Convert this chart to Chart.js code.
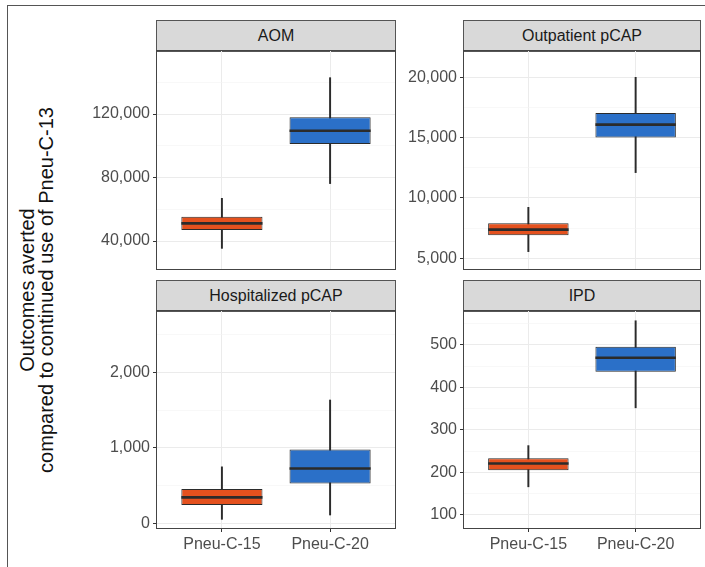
<!DOCTYPE html>
<html>
<head>
<meta charset="utf-8">
<script src="https://cdn.jsdelivr.net/npm/chart.js@4.4.1/dist/chart.umd.min.js"></script>
<style>
  html, body { margin: 0; padding: 0; background: #fff; }
  body { width: 705px; height: 567px; position: relative; overflow: hidden;
         font-family: "Liberation Sans", Arial, Helvetica, sans-serif; }
  .frame { position: absolute; left: 7px; top: 5px; width: 720px; height: 600px;
           border-left: 1.5px solid #555; border-top: 1.5px solid #555; }
  canvas { position: absolute; }
  .strip { position: absolute; box-sizing: border-box; background: #d9d9d9;
           border: 1px solid #555; color: #1a1a1a; font-size: 16px;
           display: flex; align-items: center; justify-content: center; }
  .ytitle { position: absolute; left: 37px; top: 290px; width: 0; height: 0; }
  .ytitle div { position: absolute; transform: translate(-50%, -50%) rotate(-90deg);
                white-space: nowrap; text-align: center; font-size: 20px;
                line-height: 19px; color: #111; }
</style>
</head>
<body>
<div class="frame"></div>
<div class="ytitle"><div>Outcomes averted<br>compared to continued use of Pneu-C-13</div></div>

<script>
// Vaccine programmes compared on the x axis
const categories = ['Pneu-C-15', 'Pneu-C-20'];

// Box summaries per programme: [lower whisker, Q1, median, Q3, upper whisker]
const aomBoxes        = [[35400, 46900, 51150, 55300, 66900], [76200, 101100, 109500, 117900, 142900]];
const outpatientBoxes = [[5550, 6900, 7370, 7900, 9220],      [12100, 15000, 16080, 17040, 20000]];
const hospitalBoxes   = [[53, 241, 343, 453, 748],            [110, 528, 727, 979, 1633]];
const ipdBoxes        = [[166, 205, 221, 233, 263],           [352, 437, 470, 496, 557]];

// Major tick labels on each panel's y axis
const aomTicks        = [40000, 80000, 120000];
const outpatientTicks = [5000, 10000, 15000, 20000];
const hospitalTicks   = [0, 1000, 2000];
const ipdTicks        = [100, 200, 300, 400, 500];

// y-axis limits of each panel
const aomLimits        = [22400, 159700];
const outpatientLimits = [4110, 22180];
const hospitalLimits   = [-62, 2812];
const ipdLimits        = [69, 580];

const fillColors = ['#e4511e', '#2b70c8'];
const inkColor = '#2b2b2b';

Chart.defaults.font.family = '"Liberation Sans", Arial, Helvetica, sans-serif';
Chart.defaults.font.size = 16;
Chart.defaults.color = '#4d4d4d';

// Panel placement on the page (plot-area rectangles)
const panels = [
  { title: 'AOM',               boxes: aomBoxes,        ticks: aomTicks,        limits: aomLimits,        x0: 157, y0: 51,  x1: 395, y1: 269, strip: 20,  xaxis: false },
  { title: 'Outpatient pCAP',   boxes: outpatientBoxes, ticks: outpatientTicks, limits: outpatientLimits, x0: 464, y0: 51,  x1: 700, y1: 269, strip: 20,  xaxis: false },
  { title: 'Hospitalized pCAP', boxes: hospitalBoxes,   ticks: hospitalTicks,   limits: hospitalLimits,   x0: 157, y0: 311, x1: 395, y1: 528, strip: 280, xaxis: true },
  { title: 'IPD',               boxes: ipdBoxes,        ticks: ipdTicks,        limits: ipdLimits,        x0: 464, y0: 311, x1: 700, y1: 528, strip: 280, xaxis: true }
];

const Y_AXIS_W = 80;
const X_AXIS_H = 32;
const PAD = 2;

// Minor grid positions halfway between major breaks
function minorBreaks(major, lo, hi) {
  const step = major[1] - major[0];
  const out = [];
  for (let v = major[0] - step / 2; v <= hi; v += step) {
    if (v >= lo && !major.includes(v)) out.push(v);
  }
  return out;
}

// Keep the plot area exactly where the layout puts it
function noLabelPadding(s) {
  s.paddingTop = 0; s.paddingBottom = 0; s.paddingLeft = 0; s.paddingRight = 0;
}

// Median bars and the panel frame
const boxExtras = {
  id: 'boxExtras',
  afterDatasetsDraw(chart, args, opts) {
    const ctx = chart.ctx;
    const yScale = chart.scales.y;
    const meta = chart.getDatasetMeta(0);
    ctx.save();
    ctx.strokeStyle = inkColor;
    ctx.lineWidth = 2.6;
    meta.data.forEach((bar, i) => {
      const y = yScale.getPixelForValue(opts.medians[i]);
      ctx.beginPath();
      ctx.moveTo(bar.x - bar.width / 2, y);
      ctx.lineTo(bar.x + bar.width / 2, y);
      ctx.stroke();
    });
    ctx.restore();
  },
  afterDraw(chart) {
    const { left, top, right, bottom } = chart.chartArea;
    const ctx = chart.ctx;
    ctx.save();
    ctx.strokeStyle = '#444';
    ctx.lineWidth = 1;
    ctx.strokeRect(left - 0.5, top - 0.5, right - left + 1, bottom - top + 1);
    ctx.restore();
  }
};

panels.forEach(p => {
  // facet strip
  const strip = document.createElement('div');
  strip.className = 'strip';
  strip.style.left = (p.x0 - 1) + 'px';
  strip.style.top = p.strip + 'px';
  strip.style.width = (p.x1 - p.x0 + 2) + 'px';
  strip.style.height = (p.y0 - p.strip + 1) + 'px';
  strip.textContent = p.title;
  document.body.appendChild(strip);

  const canvas = document.createElement('canvas');
  const w = (p.x1 - p.x0) + Y_AXIS_W + PAD;
  const h = (p.y1 - p.y0) + PAD + (p.xaxis ? X_AXIS_H : PAD);
  canvas.width = w; canvas.height = h;
  canvas.style.left = (p.x0 - Y_AXIS_W) + 'px';
  canvas.style.top = (p.y0 - PAD) + 'px';
  canvas.style.width = w + 'px'; canvas.style.height = h + 'px';
  document.body.appendChild(canvas);

  const minors = minorBreaks(p.ticks, p.limits[0], p.limits[1]);
  const isMajor = v => p.ticks.includes(v);

  new Chart(canvas, {
    type: 'bar',
    data: {
      datasets: [
        {
          label: 'box',
          data: p.boxes.map((b, i) => ({ x: i + 1, y: [b[1], b[3]] })),
          backgroundColor: fillColors,
          borderColor: inkColor,
          borderWidth: 1,
          borderSkipped: false,
          grouped: false,
          categoryPercentage: 1,
          barPercentage: 0.75,
          order: 0
        },
        {
          label: 'whisker',
          data: p.boxes.map((b, i) => ({ x: i + 1, y: [b[0], b[4]] })),
          backgroundColor: inkColor,
          borderWidth: 0,
          grouped: false,
          barThickness: 1.3,
          order: 1
        }
      ]
    },
    options: {
      responsive: false,
      animation: false,
      devicePixelRatio: 1,
      layout: {
        autoPadding: false,
        padding: { left: 0, top: PAD, right: PAD, bottom: p.xaxis ? 0 : PAD }
      },
      plugins: {
        legend: { display: false },
        tooltip: { enabled: false },
        boxExtras: { medians: p.boxes.map(b => b[2]) }
      },
      scales: {
        x: {
          type: 'linear',
          min: 0.4, max: 2.6,
          offset: false,
          bounds: 'data',
          afterBuildTicks: s => { s.ticks = categories.map((c, i) => ({ value: i + 1 })); },
          afterFit: s => { s.height = p.xaxis ? X_AXIS_H : 0; noLabelPadding(s); },
          ticks: {
            display: p.xaxis,
            autoSkip: false,
            maxRotation: 0,
            padding: 3,
            color: '#4d4d4d',
            callback: v => categories[Math.round(v) - 1]
          },
          grid: {
            offset: false,
            color: '#ebebeb',
            lineWidth: 1,
            drawTicks: p.xaxis,
            tickLength: 4,
            tickColor: '#333',
            tickWidth: 1
          },
          border: { display: false }
        },
        y: {
          type: 'linear',
          min: p.limits[0], max: p.limits[1],
          bounds: 'data',
          beginAtZero: false,
          afterBuildTicks: s => {
            s.ticks = p.ticks.concat(minors).sort((a, b) => a - b).map(v => ({ value: v }));
          },
          afterFit: s => { s.width = Y_AXIS_W; noLabelPadding(s); },
          ticks: {
            autoSkip: false,
            padding: 3,
            color: '#4d4d4d',
            callback: v => isMajor(v) ? v.toLocaleString('en-US') : ''
          },
          grid: {
            color: c => (c.tick && isMajor(c.tick.value)) ? '#ebebeb' : '#f4f4f4',
            lineWidth: c => (c.tick && isMajor(c.tick.value)) ? 1 : 0.6,
            tickLength: 4,
            tickColor: c => (c.tick && isMajor(c.tick.value)) ? '#333' : 'rgba(0,0,0,0)',
            tickWidth: 1
          },
          border: { display: false }
        }
      }
    },
    plugins: [boxExtras]
  });
});
</script>
</body>
</html>
